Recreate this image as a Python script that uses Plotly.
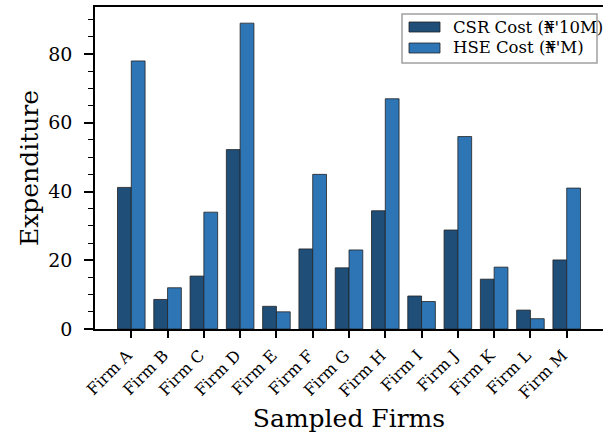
import plotly.graph_objects as go

firms = ["Firm A", "Firm B", "Firm C", "Firm D", "Firm E", "Firm F", "Firm G",
         "Firm H", "Firm I", "Firm J", "Firm K", "Firm L", "Firm M"]
csr_cost = [41.2, 8.6, 15.4, 52.2, 6.6, 23.3, 17.8, 34.4, 9.6, 28.8, 14.5, 5.5, 20.1]
hse_cost = [78, 12, 34, 89, 5, 45, 23, 67, 8, 56, 18, 3, 41]
series_names = ["CSR Cost (₦'10M)", "HSE Cost (₦'M)"]
series_colors = ["#1f4e79", "#2e75b6"]

FONT = "DejaVu Serif"
EDGE = dict(color="#222222", width=0.8)

# plot area in pixels
W, H = 603, 434
L, R, T, B = 95, 0, 7, 105
PW, PH = W - L - R, H - T - B


def px(x):
    return (x - L) / PW


def py(y):
    return (H - B - y) / PH


fig = go.Figure()
for vals, name, col in zip([csr_cost, hse_cost], series_names, series_colors):
    fig.add_trace(go.Bar(x=list(range(len(firms))), y=vals, name=name,
                         marker=dict(color=col, line=EDGE), showlegend=False))

# legend box drawn with shapes and text
shapes = [dict(type="rect", xref="paper", yref="paper",
               x0=px(402), x1=px(597), y0=py(63), y1=py(14),
               line=dict(color="#a0a0a0", width=1.5), fillcolor="rgba(255,255,255,0.85)",
               layer="above")]
annotations = []
for i, (name, col) in enumerate(zip(series_names, series_colors)):
    yc = 27 + i * 21
    shapes.append(dict(type="rect", xref="paper", yref="paper",
                       x0=px(409), x1=px(440), y0=py(yc + 5), y1=py(yc - 5),
                       line=dict(color="#222222", width=0.8), fillcolor=col,
                       layer="above"))
    annotations.append(dict(text=name, xref="paper", yref="paper",
                            x=px(451), y=py(yc), xanchor="left", yanchor="middle",
                            showarrow=False, font=dict(family=FONT, size=16.5, color="black")))

fig.update_layout(
    width=W, height=H,
    margin=dict(l=L, r=R, t=T, b=B),
    paper_bgcolor="white", plot_bgcolor="white",
    barmode="group", bargap=0.24, bargroupgap=0,
    font=dict(family=FONT, color="black"),
    shapes=shapes, annotations=annotations,
    showlegend=False,
)

fig.update_xaxes(
    range=[-1.0, 13.0],
    tickmode="array", tickvals=list(range(len(firms))), ticktext=firms,
    tickangle=-45, tickfont=dict(family=FONT, size=16),
    ticks="outside", ticklen=7, tickwidth=1.5, tickcolor="black",
    ticklabelstandoff=2, ticklabelshift=-4,
    showline=True, linecolor="black", linewidth=1.5, mirror=True,
    showgrid=False, zeroline=False,
    title=dict(text="Sampled Firms", font=dict(family=FONT, size=25), standoff=8),
)

fig.update_yaxes(
    range=[0, 93.7],
    tickvals=[0, 20, 40, 60, 80], tickfont=dict(family=FONT, size=19),
    ticks="outside", ticklen=9, tickwidth=1.5, tickcolor="black", ticklabelstandoff=8,
    minor=dict(dtick=5, ticks="outside", ticklen=5, tickwidth=1, tickcolor="black"),
    showline=True, linecolor="black", linewidth=1.5, mirror=False,
    showgrid=False, zeroline=False,
    title=dict(text="Expenditure", font=dict(family=FONT, size=25), standoff=3),
)

fig.write_html("out.html")
